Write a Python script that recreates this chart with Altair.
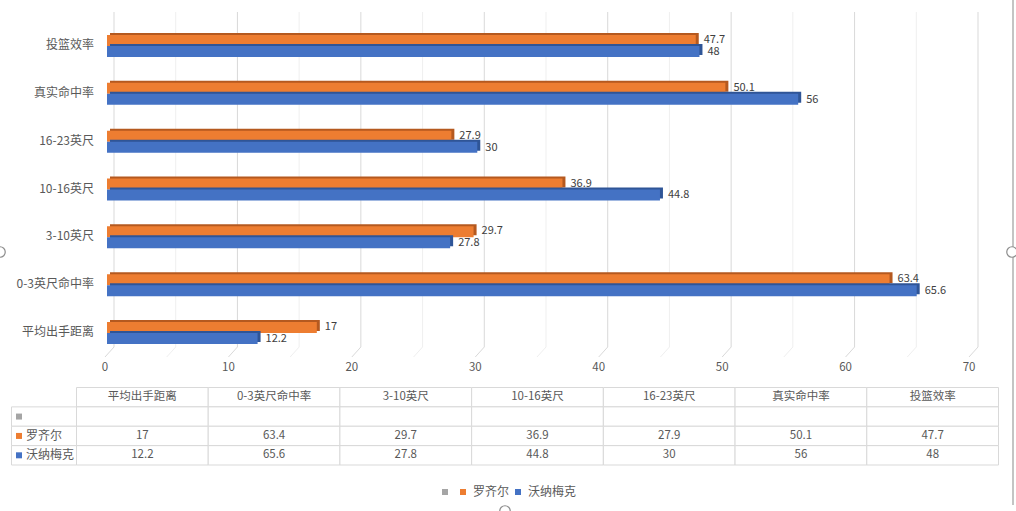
import altair as alt
import pandas as pd

# ---- data ----
categories = ["平均出手距离", "0-3英尺命中率", "3-10英尺", "10-16英尺", "16-23英尺", "真实命中率", "投篮效率"]
rozier = [17, 63.4, 29.7, 36.9, 27.9, 50.1, 47.7]
wanamaker = [12.2, 65.6, 27.8, 44.8, 30, 56, 48]
series = ["", "罗齐尔", "沃纳梅克"]
major_ticks = [0, 10, 20, 30, 40, 50, 60, 70]
minor_ticks = [5, 15, 25, 35, 45, 55, 65]
table_rows = ["表头", "", "罗齐尔", "沃纳梅克"]

# ---- styles ----
FONT = "Noto Sans CJK SC"
TXT = "#595959"
VAL = "#404040"
COLORS = ["#A5A5A5", "#ED7D31", "#4472C4"]
DARK = {"罗齐尔": "#B5591F", "沃纳梅克": "#2F5597"}
GRID_MAJOR = "#D9D9D9"
GRID_MINOR = "#EFEFEF"
BORDER = "#D9D9D9"


def fmt(v):
    return f"{v:g}"


rows = []
for c, a, b in zip(categories, rozier, wanamaker):
    rows.append({"category": c, "series": "罗齐尔", "value": a, "label": fmt(a)})
    rows.append({"category": c, "series": "沃纳梅克", "value": b, "label": fmt(b)})
bars_df = pd.DataFrame(rows)

grid_major_df = pd.DataFrame({"v": major_ticks})
grid_minor_df = pd.DataFrame({"v": minor_ticks})
cat_df = pd.DataFrame({"category": categories})

# shared scales for the bar panel
xs = alt.Scale(domain=[0, 70], range=[107, 971], nice=False, zero=False)
ys = alt.Scale(domain=categories[::-1], range=[22, 357], paddingInner=0, paddingOuter=0)
color_scale = alt.Scale(domain=series, range=COLORS)

X = alt.X("value:Q", scale=xs, axis=None)
Y = alt.Y("category:N", scale=ys, axis=None)

# gridlines (back wall + floor diagonals)
def grid_layers(df, col):
    vert = alt.Chart(df).mark_rule(color=col, strokeWidth=1, xOffset=7).encode(
        x=alt.X("v:Q", scale=xs, axis=None), y=alt.value(12), y2=alt.value(347)
    )
    diag = alt.Chart(df).mark_point(
        shape="M0.9,-1L-0.9,1", size=100, filled=False, color=col, strokeWidth=1,
        opacity=1, xOffset=2.5
    ).encode(x=alt.X("v:Q", scale=xs, axis=None), y=alt.value(352))
    return [vert, diag]

grid = grid_layers(grid_minor_df, GRID_MINOR) + grid_layers(grid_major_df, GRID_MAJOR)

tick_labels = alt.Chart(grid_major_df).mark_text(
    font=FONT, fontSize=11.5, color=TXT, dx=-2
).encode(x=alt.X("v:Q", scale=xs, axis=None), y=alt.value(368), text=alt.Text("v:Q"))

cat_labels = alt.Chart(cat_df).mark_text(
    font=FONT, fontSize=12, color=TXT, align="right", dy=-1
).encode(x=alt.value(94), y=alt.Y("category:N", scale=ys, axis=None), text="category:N")

legend = alt.Legend(
    orient="none", legendX=439, legendY=486, direction="horizontal", title=None,
    symbolType="square", symbolSize=36, symbolStrokeWidth=0, labelFont=FONT,
    labelFontSize=12, labelColor=TXT, labelOffset=4, columnPadding=2, padding=0,
    labelExpr="datum.label == '罗齐尔' ? datum.label + '\u3000 ' : datum.label",
)

bar_layers = []
for name, off in [("罗齐尔", -5.5), ("沃纳梅克", 5.5)]:
    base = alt.Chart(bars_df).transform_filter(alt.datum.series == name)
    depth = base.mark_bar(size=11, xOffset=3, yOffset=off - 2, color=DARK[name]).encode(x=X, y=Y)
    front = base.mark_bar(size=11, yOffset=off).encode(
        x=X, y=Y,
        color=alt.Color("series:N", scale=color_scale, legend=legend),
    )
    label = base.mark_text(
        font=FONT, fontSize=11, color=VAL, align="left", dx=8, dy=(off * 1.08)
    ).encode(x=X, y=Y, text="label:N")
    bar_layers += [depth, front, label]

bar_panel = alt.layer(*grid, tick_labels, cat_labels, *bar_layers)

# ---- data table ----
tx = alt.Scale(domain=categories, range=[76.5, 998.5], paddingInner=0, paddingOuter=0)
ty = alt.Scale(domain=table_rows, range=[387.5, 465], paddingInner=0, paddingOuter=0)

cell_rows = []
for i, c in enumerate(categories):
    cell_rows.append({"category": c, "row": "表头", "text": c})
    cell_rows.append({"category": c, "row": "", "text": ""})
    cell_rows.append({"category": c, "row": "罗齐尔", "text": fmt(rozier[i])})
    cell_rows.append({"category": c, "row": "沃纳梅克", "text": fmt(wanamaker[i])})
cells_df = pd.DataFrame(cell_rows)
rowlab_df = pd.DataFrame({"row": series, "series": series})

TX = alt.X("category:N", scale=tx, axis=None)
TY = alt.Y("row:N", scale=ty, axis=None)

cells = alt.Chart(cells_df).mark_rect(fill="white", stroke=BORDER, strokeWidth=1).encode(x=TX, y=TY)
cell_text = alt.Chart(cells_df).mark_text(font=FONT, fontSize=11.5, color=TXT).encode(
    x=TX, y=TY, text="text:N"
)
first_col = alt.Chart(rowlab_df).mark_rect(fill="white", stroke=BORDER, strokeWidth=1).encode(
    x=alt.value(11.5), x2=alt.value(76.5), y=TY
)
row_marker = alt.Chart(rowlab_df).mark_square(size=36, opacity=1).encode(
    x=alt.value(19), y=TY,
    fill=alt.Fill("series:N", scale=color_scale, legend=None),
)
row_text = alt.Chart(rowlab_df).mark_text(font=FONT, fontSize=12, color=TXT, align="left").encode(
    x=alt.value(26), y=TY, text="series:N"
)
table_panel = alt.layer(cells, first_col, cell_text, row_marker, row_text)

# ---- frame decorations (selection border & handles) ----
one = pd.DataFrame({"a": [0]})
border = alt.Chart(one).mark_rule(color="#B0B0B0", strokeWidth=1.5).encode(
    x=alt.value(1013), y=alt.value(0), y2=alt.value(505)
)
handles = [
    alt.Chart(one).mark_point(shape="circle", size=110, filled=True, fill="white",
                              stroke="#8C8C8C", strokeWidth=1.2, opacity=1).encode(
        x=alt.value(px), y=alt.value(py))
    for px, py in [(0, 252), (1012, 252), (505, 511)]
]

chart = alt.layer(bar_panel, table_panel, border, *handles).resolve_scale(
    x="independent", y="independent"
).properties(
    width=1016, height=511, autosize=alt.AutoSizeParams(type="none"), padding=0,
    background="white",
).configure_view(stroke=None)

chart.save("out.html", embed_options={"renderer": "svg", "actions": False})
